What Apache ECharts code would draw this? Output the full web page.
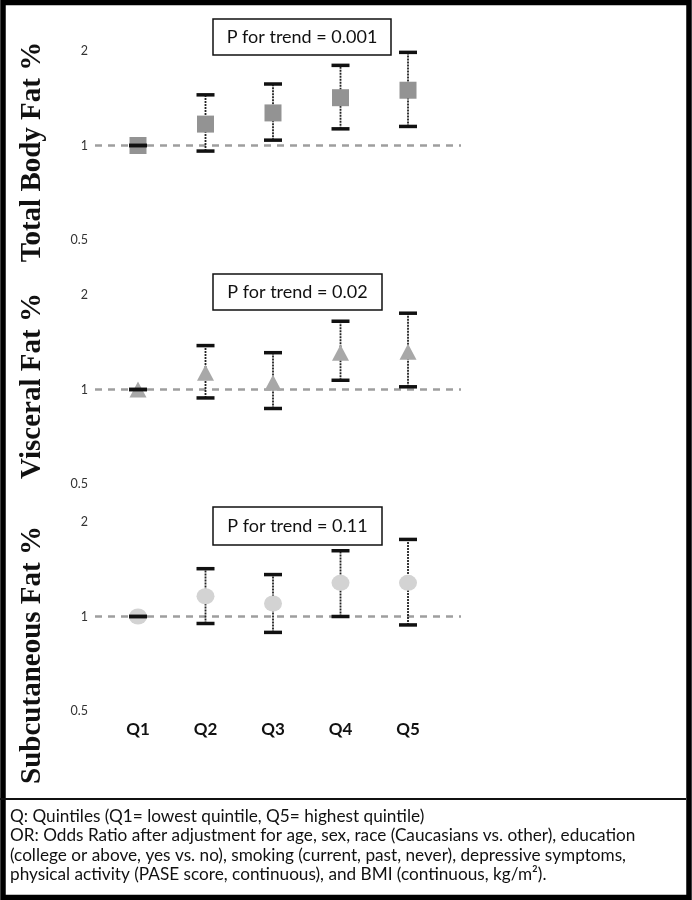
<!DOCTYPE html>
<html>
<head>
<meta charset="utf-8">
<script src="https://cdn.jsdelivr.net/npm/echarts@6/dist/echarts.min.js"></script>
<style>
  html, body { margin: 0; padding: 0; background: #fff; }
  #chart { width: 692px; height: 900px; }
</style>
</head>
<body>
<div id="chart"></div>
<script>
// ---------- data ----------
const quintiles = ['Q1', 'Q2', 'Q3', 'Q4', 'Q5'];
const xPos = [1, 2, 3, 4, 5];
const yTicks = [0.5, 1, 2];

const totalOR   = [1.00, 1.17, 1.27, 1.42, 1.50];
const totalLow  = [1.00, 0.96, 1.04, 1.13, 1.15];
const totalHigh = [1.00, 1.45, 1.57, 1.80, 1.98];

const visceralOR   = [1.00, 1.13, 1.05, 1.31, 1.32];
const visceralLow  = [1.00, 0.94, 0.87, 1.07, 1.02];
const visceralHigh = [1.00, 1.38, 1.31, 1.65, 1.75];

const subcutOR   = [1.00, 1.16, 1.10, 1.28, 1.28];
const subcutLow  = [1.00, 0.95, 0.89, 1.00, 0.94];
const subcutHigh = [1.00, 1.42, 1.36, 1.62, 1.76];

const panelTitles = ['Total Body Fat %', 'Visceral Fat %', 'Subcutaneous Fat %'];
const pTrend = ['P for trend = 0.001', 'P for trend = 0.02', 'P for trend = 0.11'];
const footnote = [
  'Q: Quintiles (Q1= lowest quintile, Q5= highest quintile)',
  'OR: Odds Ratio after adjustment for age, sex, race (Caucasians vs. other), education',
  '(college or above, yes vs. no), smoking (current, past, never), depressive symptoms,',
  'physical activity (PASE score, continuous), and BMI (continuous, kg/m\u00B2).'
];

// ---------- layout / styles ----------
const panels = [
  { top: 51,  or: totalOR,    low: totalLow,    high: totalHigh,    symbol: 'rect',     size: 17,       color: '#939393' },
  { top: 295, or: visceralOR, low: visceralLow, high: visceralHigh, symbol: 'triangle', size: [17, 16], color: '#a8a8a8' },
  { top: 522, or: subcutOR,   low: subcutLow,   high: subcutHigh,   symbol: 'circle',   size: [18, 16], color: '#d3d3d3' }
];
const GRID_H = 189;
const X_MIN = 0.363, X_MAX = 5.785;
const SANS = 'Lato, "Open Sans", sans-serif';

const grids = [], xAxes = [], yAxes = [], series = [];
panels.forEach((p, i) => {
  grids.push({ left: 95, width: 366, top: p.top, height: GRID_H });
  xAxes.push({
    type: 'value', gridIndex: i, min: X_MIN, max: X_MAX,
    axisLine: { show: false }, axisTick: { show: false }, splitLine: { show: false },
    axisLabel: {
      show: i === 2, customValues: xPos, margin: 10,
      formatter: v => quintiles[Math.round(v) - 1] || '',
      fontFamily: SANS, fontWeight: 'bold', fontSize: 17, color: '#111'
    }
  });
  yAxes.push({
    type: 'log', logBase: 2, gridIndex: i, min: 0.5, max: 2,
    axisLine: { show: false }, axisTick: { show: false }, splitLine: { show: false },
    axisLabel: {
      customValues: yTicks, margin: 7, fontFamily: SANS, fontSize: 12.5, color: '#333',
      formatter: v => String(v)
    }
  });
  const errData = xPos.map((x, k) => [x, p.low[k], p.high[k]]);
  // stems (with reference line at OR = 1)
  series.push({
    type: 'custom', xAxisIndex: i, yAxisIndex: i, z: 2, silent: true,
    data: errData,
    renderItem: (params, api) => {
      const x = api.value(0);
      const lo = api.coord([x, api.value(1)]);
      const hi = api.coord([x, api.value(2)]);
      return { type: 'line', shape: { x1: lo[0], y1: lo[1], x2: hi[0], y2: hi[1] },
               style: { stroke: '#222', lineWidth: 1.8, lineDash: [2, 1] } };
    },
    markLine: {
      silent: true, z: 1, symbol: 'none', label: { show: false },
      lineStyle: { type: [7, 6], color: '#9e9e9e', width: 2.5 },
      data: [{ yAxis: 1 }]
    }
  });
  // markers
  series.push({
    type: 'scatter', xAxisIndex: i, yAxisIndex: i, z: 3, silent: true,
    symbol: p.symbol, symbolSize: p.size,
    itemStyle: { color: p.color, opacity: 1 },
    data: xPos.map((x, k) => [x, p.or[k]])
  });
  // caps
  series.push({
    type: 'custom', xAxisIndex: i, yAxisIndex: i, z: 4, silent: true,
    data: errData,
    renderItem: (params, api) => {
      const x = api.value(0);
      const lo = api.coord([x, api.value(1)]);
      const hi = api.coord([x, api.value(2)]);
      const st = { stroke: '#111', lineWidth: 3.5 };
      return { type: 'group', children: [
        { type: 'line', shape: { x1: lo[0] - 9, y1: lo[1], x2: lo[0] + 9, y2: lo[1] }, style: st },
        { type: 'line', shape: { x1: hi[0] - 9, y1: hi[1], x2: hi[0] + 9, y2: hi[1] }, style: st }
      ] };
    }
  });
});

// ---------- decorations ----------
const titleY = [152, 386, 655];
const boxes = [
  { x: 213, y: 19,  w: 178, h: 36 },
  { x: 213, y: 274, w: 169, h: 36 },
  { x: 213, y: 507, w: 169, h: 38 }
];
const graphic = [];
graphic.push({ type: 'rect', shape: { x: 3, y: 2.5, width: 686, height: 895 },
  style: { fill: 'none', stroke: '#000', lineWidth: 5.5 }, z: 100, silent: true });
graphic.push({ type: 'line', shape: { x1: 0, y1: 799, x2: 686, y2: 799 },
  style: { stroke: '#111', lineWidth: 2 }, z: 100, silent: true });
panelTitles.forEach((t, i) => {
  graphic.push({ type: 'text', x: 33, y: titleY[i], rotation: Math.PI / 2, silent: true,
    style: { text: t, font: 'bold 29px "Liberation Serif", "Times New Roman", serif',
             fill: '#111', align: 'center', verticalAlign: 'middle' } });
});
boxes.forEach((b, i) => {
  graphic.push({ type: 'rect', shape: { x: b.x, y: b.y, width: b.w, height: b.h },
    style: { fill: '#fff', stroke: '#111', lineWidth: 1.5 }, z: 50, silent: true });
  graphic.push({ type: 'text', x: b.x + b.w / 2, y: b.y + b.h / 2, z: 51, silent: true,
    style: { text: pTrend[i], font: '18px ' + SANS, fill: '#111', align: 'center', verticalAlign: 'middle' } });
});
const footY = [816, 835.5, 855, 874];
footnote.forEach((t, i) => {
  graphic.push({ type: 'text', x: 10, y: footY[i], silent: true,
    style: { text: t, font: '17.2px ' + SANS, fill: '#111', align: 'left', verticalAlign: 'middle' } });
});

const chart = echarts.init(document.getElementById('chart'), null, { renderer: 'canvas' });
chart.setOption({
  animation: false,
  backgroundColor: '#fff',
  grid: grids, xAxis: xAxes, yAxis: yAxes, series: series, graphic: graphic
});
</script>
</body>
</html>
